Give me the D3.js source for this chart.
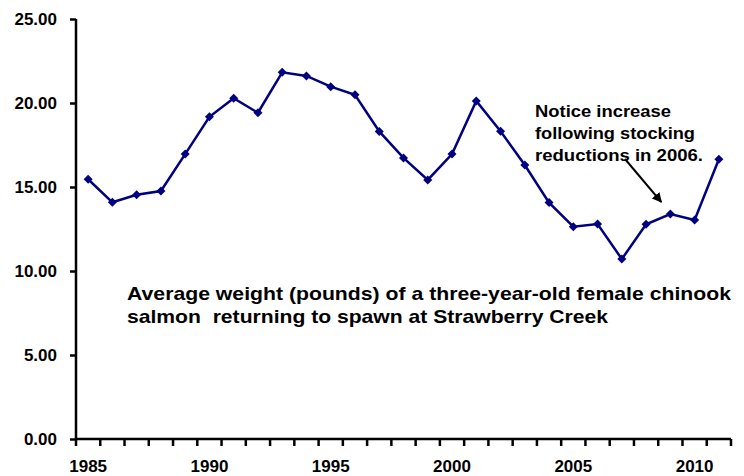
<!DOCTYPE html>
<html>
<head>
<meta charset="utf-8">
<script src="https://cdn.jsdelivr.net/npm/d3@7"></script>
<style>
	body { margin: 0; background: #fff; }
	svg { display: block; font-family: "Liberation Sans", Arial, sans-serif; font-weight: bold; }
</style>
</head>
<body>
<div id="chart"></div>
<script>
var years = [1985, 1986, 1987, 1988, 1989, 1990, 1991, 1992, 1993, 1994, 1995, 1996, 1997, 1998,
	1999, 2000, 2001, 2002, 2003, 2004, 2005, 2006, 2007, 2008, 2009, 2010, 2011];
var weights = [15.46, 14.09, 14.54, 14.76, 16.96, 19.18, 20.28, 19.42, 21.83, 21.61, 20.97, 20.49, 18.31, 16.73,
	15.42, 16.96, 20.12, 18.32, 16.31, 14.07, 12.64, 12.80, 10.71, 12.78, 13.39, 13.04, 16.65];
var yTicks = [0, 5, 10, 15, 20, 25];
var xLabels = [1985, 1990, 1995, 2000, 2005, 2010];
var captionLines = ["Average weight (pounds) of a three-year-old female chinook",
	"salmon\u00a0 returning to spawn at Strawberry Creek"];
var noteLines = ["Notice increase", "following stocking", "reductions in 2006."];

var width = 744,
	height = 476;

var svg = d3.select("#chart")
	.append("svg")
	.attr("width", width)
	.attr("height", height);

var x = d3.scaleBand()
	.domain(years)
	.range([76, 731]);

var y = d3.scaleLinear()
	.domain([0, 25])
	.range([439, 19]);

// y axis
var yAxis = svg.append("g")
	.attr("transform", "translate(76,0)")
	.call(d3.axisLeft(y).tickValues(yTicks).tickSize(6).tickPadding(13)
		.tickFormat(function (d) { return d3.format(".2f")(d); }));

// x axis, ticks between categories
var xAxis = svg.append("g")
	.attr("transform", "translate(0,439)")
	.call(d3.axisBottom(x).tickSize(0).tickPadding(21)
		.tickFormat(function (d) { return xLabels.indexOf(d) >= 0 ? d : ""; }));

var bounds = years.map(function (d) { return x(d); }).concat([x.range()[1]]);
xAxis.selectAll("line.between")
	.data(bounds)
	.enter()
	.append("line")
	.attr("class", "between")
	.attr("x1", function (d) { return d; })
	.attr("x2", function (d) { return d; })
	.attr("y1", 0)
	.attr("y2", 7);

svg.selectAll(".domain")
	.attr("stroke", "#000")
	.attr("stroke-width", 2.5);
svg.selectAll(".tick line, line.between")
	.attr("stroke", "#000")
	.attr("stroke-width", 2.5);
svg.selectAll(".tick text")
	.attr("fill", "#000")
	.style("font-size", "17px")
	.style("font-weight", "bold");
yAxis.selectAll(".domain").attr("d", "M0," + y(0) + "V" + y(25));
xAxis.selectAll(".domain").attr("d", "M" + x.range()[0] + ",0H" + x.range()[1]);

// series
var line = d3.line()
	.x(function (d, i) { return x(years[i]) + x.bandwidth() / 2; })
	.y(function (d) { return y(d); });

svg.append("path")
	.datum(weights)
	.attr("fill", "none")
	.attr("stroke", "#000080")
	.attr("stroke-width", 2.5)
	.attr("d", line);

svg.selectAll("path.marker")
	.data(weights)
	.enter()
	.append("path")
	.attr("class", "marker")
	.attr("fill", "#000080")
	.attr("d", "M0,-4.5L4.5,0L0,4.5L-4.5,0Z")
	.attr("transform", function (d, i) {
		return "translate(" + (x(years[i]) + x.bandwidth() / 2) + "," + y(d) + ")";
	});

// caption
var caption = svg.append("text")
	.style("font-size", "19px")
	.attr("fill", "#000");
caption.selectAll("tspan")
	.data(captionLines)
	.enter()
	.append("tspan")
	.attr("x", 127)
	.attr("y", function (d, i) { return 299.5 + i * 23.5; })
	.attr("textLength", function (d, i) { return i == 0 ? 604 : 481; })
	.attr("lengthAdjust", "spacingAndGlyphs")
	.text(function (d) { return d; });

// annotation
var note = svg.append("text")
	.style("font-size", "16.5px")
	.attr("fill", "#000");
note.selectAll("tspan")
	.data(noteLines)
	.enter()
	.append("tspan")
	.attr("x", 535)
	.attr("y", function (d, i) { return 116.5 + i * 22.3; })
	.attr("textLength", function (d, i) { return [136, 160, 168][i]; })
	.attr("lengthAdjust", "spacingAndGlyphs")
	.text(function (d) { return d; });

svg.append("defs").append("marker")
	.attr("id", "arrow")
	.attr("viewBox", "0 0 10 10")
	.attr("refX", 9)
	.attr("refY", 5)
	.attr("markerWidth", 5)
	.attr("markerHeight", 5)
	.attr("orient", "auto")
	.append("path")
	.attr("d", "M0,0L10,5L0,10Z")
	.attr("fill", "#000");

var px = x(2009) + x.bandwidth() / 2,
	py = y(weights[years.indexOf(2009)]);
svg.append("line")
	.attr("x1", 625)
	.attr("y1", 159)
	.attr("x2", px - 9)
	.attr("y2", py - 12)
	.attr("stroke", "#000")
	.attr("stroke-width", 2)
	.attr("marker-end", "url(#arrow)");
</script>
</body>
</html>
